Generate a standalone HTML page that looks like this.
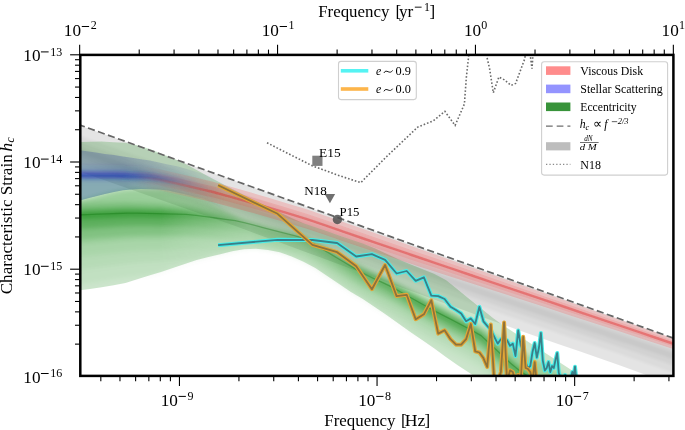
<!DOCTYPE html>
<html><head><meta charset="utf-8"><style>
html,body{margin:0;padding:0;background:#fff;}
svg{display:block;will-change:transform;}
text{font-family:"Liberation Serif",serif;fill:#000;}
</style></head><body>
<svg width="685" height="430" viewBox="0 0 685 430">
<defs><clipPath id="ax"><rect x="80.3" y="54.9" width="593.1" height="321.0"/></clipPath></defs>
<g clip-path="url(#ax)">
<defs>
<filter id="b05" filterUnits="userSpaceOnUse" x="0" y="0" width="685" height="430"><feGaussianBlur stdDeviation="0.6"/></filter>
<filter id="b1" filterUnits="userSpaceOnUse" x="0" y="0" width="685" height="430"><feGaussianBlur stdDeviation="1.2"/></filter>
<filter id="b2" filterUnits="userSpaceOnUse" x="0" y="0" width="685" height="430"><feGaussianBlur stdDeviation="2.5"/></filter>
<filter id="b15" filterUnits="userSpaceOnUse" x="0" y="0" width="685" height="430"><feGaussianBlur stdDeviation="1.8"/></filter>
<linearGradient id="lgb" gradientUnits="userSpaceOnUse" x1="125" y1="0" x2="225" y2="0"><stop offset="0" stop-color="#fff"/><stop offset="1" stop-color="#000"/></linearGradient>
<linearGradient id="lgr" gradientUnits="userSpaceOnUse" x1="135" y1="0" x2="215" y2="0"><stop offset="0" stop-color="#000"/><stop offset="1" stop-color="#fff"/></linearGradient>
<linearGradient id="lgg" gradientUnits="userSpaceOnUse" x1="80" y1="0" x2="600" y2="0"><stop offset="0" stop-color="#fff"/><stop offset="0.154" stop-color="#fff"/><stop offset="0.327" stop-color="#6a6a6a"/><stop offset="0.48" stop-color="#999"/><stop offset="0.65" stop-color="#eee"/><stop offset="1" stop-color="#eee"/></linearGradient>
<mask id="mgreen" maskUnits="userSpaceOnUse" x="0" y="0" width="685" height="430"><rect x="0" y="0" width="685" height="430" fill="url(#lgg)"/></mask>
<mask id="mblue" maskUnits="userSpaceOnUse" x="0" y="0" width="685" height="430"><rect x="0" y="0" width="685" height="430" fill="url(#lgb)"/></mask>
<mask id="mred" maskUnits="userSpaceOnUse" x="0" y="0" width="685" height="430"><rect x="0" y="0" width="685" height="430" fill="url(#lgr)"/></mask>
</defs><path d="M78,124.7L98,131.9L118,139L138,146.2L158,153.4L178,160.6L198,167.8L218,174.9L238,182.1L258,189.3L278,196.5L298,203.7L318,210.8L338,218L358,225.2L378,232.4L398,239.6L418,246.7L438,253.9L458,261.1L478,268.3L498,275.5L518,282.6L538,289.8L558,297L578,304.2L598,311.4L618,318.5L638,325.7L658,332.9L678,340.1L678,387L658,379.5L638,372L618,364.7L598,357.7L578,350.8L558,344L538,337.1L518,330L498,322.7L478,315.4L458,308.1L438,300.9L418,293.6L398,286.3L378,278.8L358,271.4L338,264L318,256.6L298,249.2L278,241.8L258,234.4L238,227L218,220L198,213L178,206L158,199L138,192L118,185L98,178L78,171Z" fill="#000" fill-opacity="0.105" />
<g fill="#000" filter="url(#b1)"><path d="M78,134.8L98,141.9L118,149L138,156.2L158,163.3L178,170.4L198,177.5L218,184.6L238,191.8L258,198.9L278,206L298,213.1L318,220.2L338,227.4L358,234.5L378,241.6L398,248.8L418,255.9L438,263L458,270.2L478,277.2L498,284.2L518,291.1L538,298.1L558,305L578,312L598,318.9L618,325.8L638,332.7L658,339.7L678,346.6L678,374.7L658,367.6L638,360.5L618,353.5L598,346.7L578,340L558,333.2L538,326.5L518,319.6L498,312.5L478,305.5L458,298.4L438,291.2L418,284L398,276.8L378,269.5L358,262.2L338,255L318,247.7L298,240.4L278,233.2L258,225.9L238,218.7L218,211.7L198,204.7L178,197.6L158,190.6L138,183.6L118,176.6L98,169.6L78,162.6Z" fill-opacity="0.04"/><path d="M78,141.1L98,148.2L118,155.3L138,162.4L158,169.5L178,176.5L198,183.6L218,190.7L238,197.8L258,204.9L278,211.9L298,219L318,226.1L338,233.2L358,240.3L378,247.4L398,254.5L418,261.6L438,268.7L458,275.8L478,282.8L498,289.6L518,296.4L538,303.2L558,310L578,316.8L598,323.6L618,330.3L638,337.1L658,343.9L678,350.7L678,367.1L658,360.2L638,353.3L618,346.5L598,339.8L578,333.1L558,326.5L538,319.8L518,313L498,306.2L478,299.3L458,292.3L438,285.2L418,278L398,270.9L378,263.7L358,256.5L338,249.3L318,242.1L298,235L278,227.8L258,220.6L238,213.5L218,206.5L198,199.5L178,192.4L158,185.4L138,178.4L118,171.4L98,164.4L78,157.3Z" fill-opacity="0.045"/><path d="M78,146.2L98,153.3L118,160.3L138,167.4L158,174.4L178,181.5L198,188.5L218,195.6L238,202.6L258,209.7L278,216.7L298,223.8L318,230.8L338,237.9L358,245L378,252.1L398,259.1L418,266.2L438,273.3L458,280.4L478,287.3L498,294L518,300.7L538,307.3L558,314L578,320.7L598,327.3L618,334L638,340.6L658,347.3L678,353.9L678,360.9L658,354.3L638,347.6L618,340.9L598,334.3L578,327.7L558,321.1L538,314.4L518,307.8L498,301.1L478,294.4L458,287.4L438,280.3L418,273.2L398,266.1L378,259L358,251.9L338,244.8L318,237.7L298,230.6L278,223.5L258,216.4L238,209.3L218,202.3L198,195.3L178,188.3L158,181.2L138,174.2L118,167.2L98,160.2L78,153.2Z" fill-opacity="0.045"/></g>
<path d="M78,142L89.9,141.7L101.7,141.6L113.6,142.2L125.5,142.8L137.3,145.2L149.2,148.8L161.1,153.4L172.9,158.2L184.8,163.6L196.7,170.1L208.5,176.6L220.4,182.8L232.3,188.9L244.1,195L256,200.9L267.9,206.6L279.7,212.3L291.6,218L303.5,223.2L315.3,227.3L327.2,231.3L339.1,235.4L350.9,239.5L362.8,243.5L374.7,248.2L386.5,253.7L398.4,259.3L410.3,264.2L422.1,269L434,273.8L445.9,280.1L457.7,289.6L469.6,299.2L481.5,308.7L493.3,318.3L505.2,326.7L517.1,334.5L528.9,342.2L540.8,350L552.7,357.8L564.5,365.5L576.4,373.3L588.3,381.5L600.1,389.7L612,398L612,387L600.1,387L588.3,387L576.4,387L564.5,387L552.7,387L540.8,387L528.9,387L517.1,387L505.2,387L493.3,387L481.5,381.2L469.6,373.1L457.7,365.2L445.9,356.9L434,348.2L422.1,340.1L410.3,332L398.4,323.6L386.5,315.1L374.7,306.9L362.8,299.1L350.9,292L339.1,284.1L327.2,276.1L315.3,268.1L303.5,261.8L291.6,256.4L279.7,252.3L267.9,250L256,248.7L244.1,249.3L232.3,251.3L220.4,254.2L208.5,257L196.7,260.1L184.8,264.1L172.9,268L161.1,271.9L149.2,275.6L137.3,279.3L125.5,282.9L113.6,285.3L101.7,287.2L89.9,288.9L78,290.5Z" fill="#008000" fill-opacity="0.205" />
<g mask="url(#mgreen)"><g filter="url(#b2)"><path d="M78,201L89.9,197.9L101.7,194.9L113.6,192L125.5,190.1L137.3,189.2L149.2,189.2L161.1,189.4L172.9,191.6L184.8,194.3L196.7,197.1L208.5,201L220.4,207.8L232.3,214.6L244.1,220.2L256,223.8L267.9,227.4L279.7,230.4L291.6,233.4L303.5,236.6L315.3,242.3L327.2,248.4L339.1,254.5L350.9,260.9L362.8,267.3L374.7,272.9L386.5,278.4L398.4,284.2L410.3,290.1L422.1,296.1L434,302.1L445.9,308.3L457.7,314.4L469.6,320.6L481.5,326.9L493.3,334L505.2,341.1L517.1,348.2L528.9,354.9L540.8,361.4L552.7,368L564.5,375.2L576.4,383.5L588.3,391.8L600.1,400L612,400L612,384L600.1,384L588.3,384L576.4,384L564.5,384L552.7,384L540.8,384L528.9,376.8L517.1,369.1L505.2,358.3L493.3,347.1L481.5,336L469.6,329.2L457.7,323L445.9,316.8L434,310.6L422.1,304.1L410.3,297.4L398.4,290.7L386.5,284.4L374.7,278.9L362.8,273.3L350.9,266.3L339.1,259.2L327.2,252L315.3,244.8L303.5,238.1L291.6,234.9L279.7,231.9L267.9,228.9L256,225.7L244.1,222.5L232.3,220.3L220.4,218.7L208.5,217.1L196.7,215.4L184.8,214.4L172.9,214.1L161.1,213.8L149.2,213.5L137.3,213.2L125.5,213.2L113.6,213.6L101.7,214.1L89.9,214.5L78,215Z" fill="#0a8a0a" fill-opacity="0.24" /><path d="M78,215L89.9,214.5L101.7,214.1L113.6,213.6L125.5,213.2L137.3,213.2L149.2,213.5L161.1,213.8L172.9,214.1L184.8,214.4L196.7,215.4L208.5,217.1L220.4,218.7L232.3,220.3L244.1,222.5L256,225.7L267.9,228.9L279.7,231.9L291.6,234.9L303.5,238.1L315.3,244.8L327.2,252L339.1,259.2L350.9,266.3L362.8,273.3L374.7,278.9L386.5,284.4L398.4,290.7L410.3,297.4L422.1,304.1L434,310.6L445.9,316.8L457.7,323L469.6,329.2L481.5,336L493.3,347.1L505.2,358.3L517.1,369.1L528.9,376.8L540.8,384L552.7,384L564.5,384L576.4,384L588.3,384L600.1,384L612,384L612,387L600.1,387L588.3,387L576.4,387L564.5,387L552.7,387L540.8,387L528.9,387L517.1,387L505.2,387L493.3,379.8L481.5,368.9L469.6,362.4L457.7,356.5L445.9,350.6L434,344.7L422.1,338.5L410.3,332L398.4,323.6L386.5,315.1L374.7,306.9L362.8,299.1L350.9,292L339.1,284.1L327.2,276.1L315.3,268.1L303.5,261.8L291.6,256.4L279.7,252.3L267.9,250L256,248.7L244.1,249.3L232.3,251.3L220.4,254.2L208.5,257L196.7,260.1L184.8,264.1L172.9,268L161.1,271.9L149.2,275.3L137.3,276.4L125.5,277.7L113.6,279.5L101.7,281.4L89.9,283.2L78,285Z" fill="#0a8a0a" fill-opacity="0.05" /><path d="M78,215L89.9,214.5L101.7,214.1L113.6,213.6L125.5,213.2L137.3,213.2L149.2,213.5L161.1,213.8L172.9,214.1L184.8,214.4L196.7,215.4L208.5,217.1L220.4,218.7L232.3,220.3L244.1,222.5L256,225.7L267.9,228.9L279.7,231.9L291.6,234.9L303.5,238.1L315.3,244.8L327.2,252L339.1,259.2L350.9,266.3L362.8,273.3L374.7,278.9L386.5,284.4L398.4,290.7L410.3,297.4L422.1,304.1L434,310.6L445.9,316.8L457.7,323L469.6,329.2L481.5,336L493.3,347.1L505.2,358.3L517.1,369.1L528.9,376.8L540.8,384L552.7,384L564.5,384L576.4,384L588.3,384L600.1,384L612,384L612,387L600.1,387L588.3,387L576.4,387L564.5,387L552.7,387L540.8,387L528.9,387L517.1,387L505.2,383.7L493.3,372.8L481.5,361.9L469.6,355.3L457.7,349.3L445.9,343.4L434,337.4L422.1,331.1L410.3,324.7L398.4,318.3L386.5,312.6L374.7,306.9L362.8,299.1L350.9,292L339.1,284.1L327.2,276.1L315.3,268.1L303.5,261.8L291.6,256.4L279.7,252.3L267.9,250L256,248.7L244.1,249.3L232.3,251.3L220.4,254.2L208.5,257L196.7,259.7L184.8,259.7L172.9,260.5L161.1,261.3L149.2,262.1L137.3,262.8L125.5,263.9L113.6,265.4L101.7,266.9L89.9,268.5L78,270Z" fill="#0a8a0a" fill-opacity="0.06" /><path d="M78,215L89.9,214.5L101.7,214.1L113.6,213.6L125.5,213.2L137.3,213.2L149.2,213.5L161.1,213.8L172.9,214.1L184.8,214.4L196.7,215.4L208.5,217.1L220.4,218.7L232.3,220.3L244.1,222.5L256,225.7L267.9,228.9L279.7,231.9L291.6,234.9L303.5,238.1L315.3,244.8L327.2,252L339.1,259.2L350.9,266.3L362.8,273.3L374.7,278.9L386.5,284.4L398.4,290.7L410.3,297.4L422.1,304.1L434,310.6L445.9,316.8L457.7,323L469.6,329.2L481.5,336L493.3,347.1L505.2,358.3L517.1,369.1L528.9,376.8L540.8,384L552.7,384L564.5,384L576.4,384L588.3,384L600.1,384L612,384L612,387L600.1,387L588.3,387L576.4,387L564.5,387L552.7,387L540.8,387L528.9,387L517.1,387L505.2,377.7L493.3,366.7L481.5,355.8L469.6,349.1L457.7,343.1L445.9,337.1L434,331.1L422.1,324.7L410.3,318.2L398.4,311.8L386.5,306L374.7,301L362.8,295.9L350.9,289.3L339.1,282.8L327.2,276.1L315.3,268.1L303.5,261.8L291.6,256.4L279.7,252.3L267.9,250L256,248.7L244.1,249.3L232.3,251.2L220.4,250.6L208.5,249.9L196.7,249.2L184.8,249L172.9,249.5L161.1,250.1L149.2,250.6L137.3,251.1L125.5,251.9L113.6,253.2L101.7,254.5L89.9,255.7L78,257Z" fill="#0a8a0a" fill-opacity="0.07" /><path d="M78,215L89.9,214.5L101.7,214.1L113.6,213.6L125.5,213.2L137.3,213.2L149.2,213.5L161.1,213.8L172.9,214.1L184.8,214.4L196.7,215.4L208.5,217.1L220.4,218.7L232.3,220.3L244.1,222.5L256,225.7L267.9,228.9L279.7,231.9L291.6,234.9L303.5,238.1L315.3,244.8L327.2,252L339.1,259.2L350.9,266.3L362.8,273.3L374.7,278.9L386.5,284.4L398.4,290.7L410.3,297.4L422.1,304.1L434,310.6L445.9,316.8L457.7,323L469.6,329.2L481.5,336L493.3,347.1L505.2,358.3L517.1,369.1L528.9,376.8L540.8,384L552.7,384L564.5,384L576.4,384L588.3,384L600.1,384L612,384L612,387L600.1,387L588.3,387L576.4,387L564.5,387L552.7,387L540.8,387L528.9,387L517.1,382.8L505.2,372.1L493.3,361.1L481.5,350.1L469.6,343.4L457.7,337.4L445.9,331.3L434,325.2L422.1,318.8L410.3,312.3L398.4,305.8L386.5,299.8L374.7,294.7L362.8,289.4L350.9,282.8L339.1,276L327.2,269.2L315.3,262.3L303.5,256L291.6,253.4L279.7,251.1L267.9,248.9L256,246.4L244.1,243.9L232.3,242.4L220.4,241.5L208.5,240.5L196.7,239.6L184.8,239.1L172.9,239.4L161.1,239.7L149.2,240L137.3,240.3L125.5,240.8L113.6,241.9L101.7,242.9L89.9,244L78,245Z" fill="#0a8a0a" fill-opacity="0.08" /><path d="M78,203L89.9,202.8L101.7,202.6L113.6,202.3L125.5,202.1L137.3,202.4L149.2,202.9L161.1,203.4L172.9,203.9L184.8,204.5L196.7,205.8L208.5,207.7L220.4,209.6L232.3,214.6L244.1,220.2L256,223.8L267.9,227.4L279.7,230.4L291.6,233.4L303.5,236.6L315.3,242.3L327.2,248.4L339.1,254.5L350.9,260.9L362.8,267.3L374.7,272.9L386.5,278.4L398.4,284.7L410.3,291.4L422.1,298.2L434,304.7L445.9,311L457.7,317.2L469.6,323.5L481.5,330.3L493.3,341.5L505.2,352.7L517.1,363.6L528.9,371.4L540.8,378.6L552.7,378.6L564.5,378.6L576.4,383.5L588.3,391.8L600.1,400L612,400L612,387L600.1,387L588.3,387L576.4,387L564.5,387L552.7,387L540.8,387L528.9,387L517.1,380.5L505.2,369.8L493.3,358.8L481.5,347.7L469.6,341L457.7,335L445.9,328.9L434,322.8L422.1,316.4L410.3,309.8L398.4,303.3L386.5,297.2L374.7,292.1L362.8,286.7L350.9,280L339.1,273.2L327.2,266.3L315.3,259.4L303.5,253L291.6,250.3L279.7,247.9L267.9,245.5L256,242.9L244.1,240.3L232.3,238.7L220.4,237.7L208.5,236.6L196.7,235.6L184.8,235L172.9,235.2L161.1,235.4L149.2,235.6L137.3,235.8L125.5,236.2L113.6,237.2L101.7,238.1L89.9,239.1L78,240Z" fill="#068006" fill-opacity="0.18" /><path d="M78,209L89.9,208.7L101.7,208.3L113.6,208L125.5,207.6L137.3,207.8L149.2,208.2L161.1,208.6L172.9,209L184.8,209.4L196.7,210.6L208.5,212.4L220.4,214.1L232.3,215.9L244.1,220.2L256,223.8L267.9,227.4L279.7,230.4L291.6,233.4L303.5,236.6L315.3,242.3L327.2,248.6L339.1,255.9L350.9,263L362.8,270.1L374.7,275.8L386.5,281.3L398.4,287.7L410.3,294.4L422.1,301.1L434,307.7L445.9,313.9L457.7,320.1L469.6,326.3L481.5,333.2L493.3,344.3L505.2,355.5L517.1,366.3L528.9,374.1L540.8,381.3L552.7,381.3L564.5,381.3L576.4,383.5L588.3,391.8L600.1,400L612,400L612,387L600.1,387L588.3,387L576.4,387L564.5,387L552.7,387L540.8,387L528.9,383.2L517.1,375.5L505.2,364.7L493.3,353.7L481.5,342.6L469.6,335.8L457.7,329.7L445.9,323.6L434,317.4L422.1,311L410.3,304.3L398.4,297.7L386.5,291.6L374.7,286.3L362.8,280.8L350.9,274L339.1,267.1L327.2,260L315.3,253L303.5,246.4L291.6,243.6L279.7,240.9L267.9,238.2L256,235.4L244.1,232.5L232.3,230.6L220.4,229.3L208.5,228L196.7,226.7L184.8,225.9L172.9,225.9L161.1,225.9L149.2,225.8L137.3,225.8L125.5,226.1L113.6,226.8L101.7,227.5L89.9,228.3L78,229Z" fill="#068006" fill-opacity="0.28" /><path d="M78,212.5L89.9,212.1L101.7,211.7L113.6,211.3L125.5,210.9L137.3,210.9L149.2,211.3L161.1,211.6L172.9,212L184.8,212.3L196.7,213.4L208.5,215.1L220.4,216.8L232.3,218.5L244.1,220.7L256,224L267.9,227.4L279.7,230.4L291.6,233.4L303.5,236.6L315.3,243.3L327.2,250.6L339.1,257.8L350.9,264.9L362.8,271.9L374.7,277.6L386.5,283.1L398.4,289.5L410.3,296.2L422.1,302.8L434,309.4L445.9,315.6L457.7,321.8L469.6,328L481.5,334.8L493.3,346L505.2,357.1L517.1,367.9L528.9,375.7L540.8,382.9L552.7,382.9L564.5,382.9L576.4,383.5L588.3,391.8L600.1,400L612,400L612,385.8L600.1,385.8L588.3,385.8L576.4,385.8L564.5,385.8L552.7,385.8L540.8,385.8L528.9,378.6L517.1,370.9L505.2,360.1L493.3,349L481.5,337.9L469.6,331.1L457.7,324.9L445.9,318.7L434,312.5L422.1,306L410.3,299.4L398.4,292.7L386.5,286.5L374.7,281L362.8,275.4L350.9,268.5L339.1,261.5L327.2,254.3L315.3,247.1L303.5,240.5L291.6,237.4L279.7,234.5L267.9,231.6L256,228.5L244.1,225.4L232.3,223.3L220.4,221.7L208.5,220.2L196.7,218.6L184.8,217.7L172.9,217.5L161.1,217.2L149.2,217L137.3,216.8L125.5,216.9L113.6,217.4L101.7,217.9L89.9,218.5L78,219Z" fill="#068006" fill-opacity="0.39" /></g></g>
<path d="M78,215L87.8,214.6L97.7,214.2L107.5,213.9L117.3,213.5L127.1,213.1L137,213.2L146.8,213.4L156.6,213.7L166.5,213.9L176.3,214.2L186.1,214.4L196,215.3L205.8,216.7L215.6,218L225.4,219.4L235.3,220.7L245.1,222.8L254.9,225.4L264.8,228.1L274.6,230.6L284.4,233.1L294.3,235.6L304.1,238.3L313.9,243.9L323.7,249.9L333.6,255.9L343.4,261.8L353.2,267.6L363.1,273.4L372.9,278.1L382.7,282.6L392.6,287.4L402.4,293L412.2,298.5L422,304L431.9,309.5L441.7,314.6L451.5,319.7L461.4,324.9L471.2,330L481,335.6L490.9,344.8L500.7,354L510.5,363.2L520.3,371.2L530.2,377.6L540,384" fill="none" stroke="#0a6a0a" stroke-opacity="0.32" stroke-width="1.3" filter="url(#b05)"/>
<g mask="url(#mblue)"><path d="M78,150L87,151.3L96,152.6L105,153.9L114,155.1L123,156.4L132,157.8L141,159.2L150,160.5L159,162.4L168,164.4L177,166.3L186,168.8L195,171.5L204,174.2L213,177L222,180L231,183L240,186L240,219L231,213.9L222,208.7L213,203.6L204,198.8L195,196.7L186,194.6L177,192.5L168,190.4L159,189.4L150,189.2L141,189L132,189.6L123,190.3L114,191.9L105,194.1L96,196.3L87,198.6L78,201Z" fill="#1a2a9a" fill-opacity="0.24" /><path d="M78,174.8L87,174.9L96,175L105,175.1L114,175.1L123,175.3L132,175.7L141,176.1L150,176.5L159,177.8L168,179.2L177,180.6L186,182.6L195,185L204,187.4L213,189.8L222,192.2L231,194.7L240,197.1L240,219L231,213.9L222,208.7L213,203.6L204,198.8L195,196.7L186,194.6L177,192.5L168,190.4L159,189.4L150,189.2L141,189L132,189.6L123,190.3L114,191.9L105,194.1L96,196.3L87,198.6L78,201Z" fill="#006a70" fill-opacity="0.16" /><path d="M78,164.8L87,164.9L96,165L105,165.1L114,165.1L123,165.3L132,165.7L141,166.1L150,166.5L159,167.8L168,169.2L177,170.6L186,172.6L195,175L204,177.4L213,179.8L222,182.2L231,184.7L240,187.1L240,203.1L231,200.7L222,198.2L213,195.8L204,193.4L195,191L186,188.6L177,186.6L168,185.2L159,183.8L150,182.5L141,182.1L132,181.7L123,181.3L114,181.1L105,181.1L96,181L87,180.9L78,180.8Z" fill="#2030c0" fill-opacity="0.12" filter="url(#b2)"/><path d="M78,170.8L87,170.9L96,171L105,171.1L114,171.1L123,171.3L132,171.7L141,172.1L150,172.5L159,173.8L168,175.2L177,176.6L186,178.6L195,181L204,183.4L213,185.8L222,188.2L231,190.7L240,193.1L240,201.1L231,198.7L222,196.2L213,193.8L204,191.4L195,189L186,186.6L177,184.6L168,183.2L159,181.8L150,180.5L141,180.1L132,179.7L123,179.3L114,179.1L105,179.1L96,179L87,178.9L78,178.8Z" fill="#1a2ab8" fill-opacity="0.4" filter="url(#b15)"/><path d="M78,174.8L87,174.9L96,175L105,175.1L114,175.1L123,175.3L132,175.7L141,176.1L150,176.5L159,177.8L168,179.2L177,180.6L186,182.6L195,185L204,187.4L213,189.8L222,192.2L231,194.7L240,197.1" fill="none" stroke="#1020b0" stroke-opacity="0.3" stroke-width="2.2" filter="url(#b1)"/></g>
<g mask="url(#mred)"><path d="M120,165L138.6,166.1L157.2,168.5L175.8,172.9L194.4,177.3L213,181.7L231.6,187L250.2,192.3L268.8,197.8L287.4,203.4L306,209.1L324.6,215.4L343.2,222L361.8,228.5L380.4,235.1L399,241.6L417.6,248.2L436.2,254.8L454.8,261.4L473.4,267.9L492,274.5L510.6,281.1L529.2,287.7L547.8,294.2L566.4,300.8L585,307.4L603.6,313.9L622.2,320.5L640.8,327L659.4,333.5L678,340.1L678,350.5L659.4,344.5L640.8,338.4L622.2,332.3L603.6,326.2L585,320.2L566.4,314.2L547.8,308.1L529.2,302.1L510.6,296L492,290L473.4,284L454.8,277.9L436.2,271.9L417.6,265.9L399,259.8L380.4,253.8L361.8,247.6L343.2,241.2L324.6,234.8L306,228.5L287.4,223L268.8,217.5L250.2,212.2L231.6,207.2L213,202.2L194.4,198.1L175.8,194L157.2,189.8L138.6,187.8L120,187Z" fill="#ff2020" fill-opacity="0.18" /><path d="M120,169.9L138.6,171L157.2,173.3L175.8,177.6L194.4,182L213,186.3L231.6,191.6L250.2,196.8L268.8,202.2L287.4,207.8L306,213.4L324.6,219.8L343.2,226.3L361.8,232.8L380.4,239.3L399,245.7L417.6,252.2L436.2,258.6L454.8,265.1L473.4,271.5L492,278L510.6,284.4L529.2,290.9L547.8,297.4L566.4,303.8L585,310.3L603.6,316.7L622.2,323.1L640.8,329.6L659.4,336L678,342.4L678,348.2L659.4,342L640.8,335.8L622.2,329.7L603.6,323.5L585,317.3L566.4,311.2L547.8,305L529.2,298.8L510.6,292.7L492,286.5L473.4,280.4L454.8,274.2L436.2,268L417.6,261.9L399,255.7L380.4,249.6L361.8,243.3L343.2,236.8L324.6,230.4L306,224.2L287.4,218.6L268.8,213.1L250.2,207.8L231.6,202.6L213,197.6L194.4,193.4L175.8,189.2L157.2,185L138.6,182.9L120,182.1Z" fill="#ff2020" fill-opacity="0.1" filter="url(#b05)"/><path d="M120,176L138.6,176.9L157.2,179.2L175.8,183.4L194.4,187.7L213,192L231.6,197.1L250.2,202.3L268.8,207.6L287.4,213.2L306,218.8L324.6,225.1L343.2,231.6L361.8,238L380.4,244.4L399,250.7L417.6,257L436.2,263.3L454.8,269.6L473.4,276L492,282.3L510.6,288.6L529.2,294.9L547.8,301.2L566.4,307.5L585,313.8L603.6,320.1L622.2,326.4L640.8,332.7L659.4,339L678,345.3" fill="none" stroke="#e02828" stroke-opacity="0.42" stroke-width="2.4" filter="url(#b05)"/></g>
<line x1="78" y1="124.37" x2="678" y2="339.77" stroke="#666" stroke-width="1.7" stroke-dasharray="7.2 3.4"/>
<path d="M267,142.8L290,154.5L312.6,165.9L336,174.5L360.7,182.7L386.3,156.9L417.7,127.1L433.4,120.8L444.9,111.4L455.1,125.4L464.4,104L466.3,77.9L468.5,57.4L470,40L485,40L486.8,56.5L489.6,68.6L493.3,92.8L498.9,77L504.4,79.8L511,85.4L515.6,83.5L524.9,58.4L527,40L529.6,50L532,68.6L533.3,50L534,40" fill="none" stroke="#6a6a6a" stroke-width="1.6" stroke-dasharray="1.6 1.95"/>
<path d="M218.1,245.2L277.6,239.8L312.4,240L337.1,243L356.2,256.5L371.9,254.2L385.1,259.9L396.6,273.5L406.7,271L415.7,280.8L423.9,277.3L431.3,295.6L438.2,296.1L444.6,299L450.5,306.8L456,310.1L461.2,313.5L466.1,321.3L470.8,318.5L475.2,324L479.4,306.8L483.4,321.3L487.2,325.8L490.8,330L494.3,336.9L497.7,343.6L500.9,339.2L504.1,342L507.1,340.3L510,345.8L512.8,343.6L515.5,356L518.2,330.5L520.7,345.2L523.2,352L525.6,362L528,368.2L530.3,366L532.5,352L534.7,343L536.8,357.5L538.9,348L540.9,333L542.8,360.6L544.8,370.5L546.7,368L548.5,362L550.3,372L552.1,366L553.8,368L555.5,360L557.2,353L558.8,373L560.4,377L562,379L563.5,378L565.1,375L566.6,379L568,380L569.5,377L570.9,378L572.3,372L573.6,376L575,366.7L576.3,380" fill="none" stroke="#48ece6" stroke-width="4.0" stroke-linejoin="round"/>
<path d="M218.1,245.2L277.6,239.8L312.4,240L337.1,243L356.2,256.5L371.9,254.2L385.1,259.9L396.6,273.5L406.7,271L415.7,280.8L423.9,277.3L431.3,295.6L438.2,296.1L444.6,299L450.5,306.8L456,310.1L461.2,313.5L466.1,321.3L470.8,318.5L475.2,324L479.4,306.8L483.4,321.3L487.2,325.8L490.8,330L494.3,336.9L497.7,343.6L500.9,339.2L504.1,342L507.1,340.3L510,345.8L512.8,343.6L515.5,356L518.2,330.5L520.7,345.2L523.2,352L525.6,362L528,368.2L530.3,366L532.5,352L534.7,343L536.8,357.5L538.9,348L540.9,333L542.8,360.6L544.8,370.5L546.7,368L548.5,362L550.3,372L552.1,366L553.8,368L555.5,360L557.2,353L558.8,373L560.4,377L562,379L563.5,378L565.1,375L566.6,379L568,380L569.5,377L570.9,378L572.3,372L573.6,376L575,366.7L576.3,380" fill="none" stroke="#3a7f88" stroke-width="1.8" stroke-linejoin="round"/>
<path d="M218.1,185.2L277.6,213.8L312.4,244.8L337.1,252.2L356.2,266.2L371.9,289.2L385.1,265L396.6,296.1L406.7,294.8L415.7,319.2L423.9,314.3L431.3,300.3L438.2,333.6L444.6,330.2L450.5,339.2L456,344.7L461.2,344.7L466.1,339.2L470.8,324L475.2,351.4L479.4,352.5L483.4,358.1L487.2,367L490.8,324.6L494.3,382L497.7,382L500.9,372L504.1,322.4L507.1,382L510,370.4L512.8,372L515.5,382L518.2,375L520.7,382L523.2,336.8L525.6,368L528,369L530.3,372L532.5,382L534.7,362.1L536.8,384L538.9,386L540.9,388" fill="none" stroke="#e2a636" stroke-width="4.0" stroke-linejoin="round"/>
<path d="M218.1,185.2L277.6,213.8L312.4,244.8L337.1,252.2L356.2,266.2L371.9,289.2L385.1,265L396.6,296.1L406.7,294.8L415.7,319.2L423.9,314.3L431.3,300.3L438.2,333.6L444.6,330.2L450.5,339.2L456,344.7L461.2,344.7L466.1,339.2L470.8,324L475.2,351.4L479.4,352.5L483.4,358.1L487.2,367L490.8,324.6L494.3,382L497.7,382L500.9,372L504.1,322.4L507.1,382L510,370.4L512.8,372L515.5,382L518.2,375L520.7,382L523.2,336.8L525.6,368L528,369L530.3,372L532.5,382L534.7,362.1L536.8,384L538.9,386L540.9,388" fill="none" stroke="#8e723a" stroke-width="1.8" stroke-linejoin="round"/>
<rect x="312.3" y="155.7" width="10.2" height="10.2" fill="#808080"/>
<path d="M324.7,194 L335.1,194 L329.9,203.3 Z" fill="#707070"/>
<circle cx="337.4" cy="219.5" r="4.7" fill="#505050" fill-opacity="0.85"/>
</g>
<g stroke="#000" stroke-width="1.1">
<line x1="100.82" y1="375.90" x2="100.82" y2="381.20"/><line x1="119.97" y1="375.90" x2="119.97" y2="381.20"/><line x1="135.61" y1="375.90" x2="135.61" y2="381.20"/><line x1="148.84" y1="375.90" x2="148.84" y2="381.20"/><line x1="160.30" y1="375.90" x2="160.30" y2="381.20"/><line x1="170.41" y1="375.90" x2="170.41" y2="381.20"/><line x1="179.45" y1="375.90" x2="179.45" y2="386.10"/><line x1="238.93" y1="375.90" x2="238.93" y2="381.20"/><line x1="273.73" y1="375.90" x2="273.73" y2="381.20"/><line x1="298.42" y1="375.90" x2="298.42" y2="381.20"/><line x1="317.57" y1="375.90" x2="317.57" y2="381.20"/><line x1="333.21" y1="375.90" x2="333.21" y2="381.20"/><line x1="346.44" y1="375.90" x2="346.44" y2="381.20"/><line x1="357.90" y1="375.90" x2="357.90" y2="381.20"/><line x1="368.01" y1="375.90" x2="368.01" y2="381.20"/><line x1="377.05" y1="375.90" x2="377.05" y2="386.10"/><line x1="436.53" y1="375.90" x2="436.53" y2="381.20"/><line x1="471.33" y1="375.90" x2="471.33" y2="381.20"/><line x1="496.02" y1="375.90" x2="496.02" y2="381.20"/><line x1="515.17" y1="375.90" x2="515.17" y2="381.20"/><line x1="530.81" y1="375.90" x2="530.81" y2="381.20"/><line x1="544.04" y1="375.90" x2="544.04" y2="381.20"/><line x1="555.50" y1="375.90" x2="555.50" y2="381.20"/><line x1="565.61" y1="375.90" x2="565.61" y2="381.20"/><line x1="574.65" y1="375.90" x2="574.65" y2="386.10"/><line x1="634.13" y1="375.90" x2="634.13" y2="381.20"/><line x1="668.93" y1="375.90" x2="668.93" y2="381.20"/><line x1="79.65" y1="54.90" x2="79.65" y2="44.70"/><line x1="139.22" y1="54.90" x2="139.22" y2="49.60"/><line x1="174.07" y1="54.90" x2="174.07" y2="49.60"/><line x1="198.80" y1="54.90" x2="198.80" y2="49.60"/><line x1="217.98" y1="54.90" x2="217.98" y2="49.60"/><line x1="233.65" y1="54.90" x2="233.65" y2="49.60"/><line x1="246.89" y1="54.90" x2="246.89" y2="49.60"/><line x1="258.37" y1="54.90" x2="258.37" y2="49.60"/><line x1="268.49" y1="54.90" x2="268.49" y2="49.60"/><line x1="277.55" y1="54.90" x2="277.55" y2="44.70"/><line x1="337.12" y1="54.90" x2="337.12" y2="49.60"/><line x1="371.97" y1="54.90" x2="371.97" y2="49.60"/><line x1="396.70" y1="54.90" x2="396.70" y2="49.60"/><line x1="415.88" y1="54.90" x2="415.88" y2="49.60"/><line x1="431.55" y1="54.90" x2="431.55" y2="49.60"/><line x1="444.79" y1="54.90" x2="444.79" y2="49.60"/><line x1="456.27" y1="54.90" x2="456.27" y2="49.60"/><line x1="466.39" y1="54.90" x2="466.39" y2="49.60"/><line x1="475.45" y1="54.90" x2="475.45" y2="44.70"/><line x1="535.02" y1="54.90" x2="535.02" y2="49.60"/><line x1="569.87" y1="54.90" x2="569.87" y2="49.60"/><line x1="594.60" y1="54.90" x2="594.60" y2="49.60"/><line x1="613.78" y1="54.90" x2="613.78" y2="49.60"/><line x1="629.45" y1="54.90" x2="629.45" y2="49.60"/><line x1="642.69" y1="54.90" x2="642.69" y2="49.60"/><line x1="654.17" y1="54.90" x2="654.17" y2="49.60"/><line x1="664.29" y1="54.90" x2="664.29" y2="49.60"/><line x1="673.35" y1="54.90" x2="673.35" y2="44.70"/><line x1="80.30" y1="344.13" x2="75.00" y2="344.13"/><line x1="80.30" y1="325.25" x2="75.00" y2="325.25"/><line x1="80.30" y1="311.86" x2="75.00" y2="311.86"/><line x1="80.30" y1="301.47" x2="75.00" y2="301.47"/><line x1="80.30" y1="292.98" x2="75.00" y2="292.98"/><line x1="80.30" y1="285.81" x2="75.00" y2="285.81"/><line x1="80.30" y1="279.59" x2="75.00" y2="279.59"/><line x1="80.30" y1="274.11" x2="75.00" y2="274.11"/><line x1="80.30" y1="269.20" x2="70.10" y2="269.20"/><line x1="80.30" y1="236.93" x2="75.00" y2="236.93"/><line x1="80.30" y1="218.05" x2="75.00" y2="218.05"/><line x1="80.30" y1="204.66" x2="75.00" y2="204.66"/><line x1="80.30" y1="194.27" x2="75.00" y2="194.27"/><line x1="80.30" y1="185.78" x2="75.00" y2="185.78"/><line x1="80.30" y1="178.61" x2="75.00" y2="178.61"/><line x1="80.30" y1="172.39" x2="75.00" y2="172.39"/><line x1="80.30" y1="166.91" x2="75.00" y2="166.91"/><line x1="80.30" y1="162.00" x2="70.10" y2="162.00"/><line x1="80.30" y1="129.73" x2="75.00" y2="129.73"/><line x1="80.30" y1="110.85" x2="75.00" y2="110.85"/><line x1="80.30" y1="97.46" x2="75.00" y2="97.46"/><line x1="80.30" y1="87.07" x2="75.00" y2="87.07"/><line x1="80.30" y1="78.58" x2="75.00" y2="78.58"/><line x1="80.30" y1="71.41" x2="75.00" y2="71.41"/><line x1="80.30" y1="65.19" x2="75.00" y2="65.19"/><line x1="80.30" y1="59.71" x2="75.00" y2="59.71"/><line x1="80.30" y1="54.80" x2="70.10" y2="54.80"/>
</g>
<rect x="80.3" y="54.9" width="593.10" height="321.00" fill="none" stroke="#000" stroke-width="2.5"/>
<g font-size="17.2">
<text x="160.64" y="405.60" font-size="17.2">10</text><rect x="178.58" y="395.90" width="7.3" height="1.0" fill="#000"/><text x="187.48" y="399.80" font-size="12.0">9</text><text x="358.24" y="405.60" font-size="17.2">10</text><rect x="376.18" y="395.90" width="7.3" height="1.0" fill="#000"/><text x="385.08" y="399.80" font-size="12.0">8</text><text x="555.84" y="405.60" font-size="17.2">10</text><rect x="573.78" y="395.90" width="7.3" height="1.0" fill="#000"/><text x="582.68" y="399.80" font-size="12.0">7</text><text x="63.84" y="35.70" font-size="17.2">10</text><rect x="81.78" y="26.00" width="7.3" height="1.0" fill="#000"/><text x="90.68" y="28.90" font-size="12.0">2</text><text x="261.74" y="35.70" font-size="17.2">10</text><rect x="279.68" y="26.00" width="7.3" height="1.0" fill="#000"/><text x="288.58" y="28.90" font-size="12.0">1</text><text x="463.99" y="35.70" font-size="17.2">10</text><text x="481.28" y="28.80" font-size="12.0">0</text><text x="661.59" y="35.70" font-size="17.2">10</text><text x="678.88" y="28.80" font-size="12.0">1</text><text x="23.29" y="60.90" font-size="17.2">10</text><rect x="40.93" y="51.40" width="7.7" height="1.0" fill="#000"/><text x="50.23" y="55.50" font-size="12.0">13</text><text x="23.29" y="168.10" font-size="17.2">10</text><rect x="40.93" y="158.60" width="7.7" height="1.0" fill="#000"/><text x="50.23" y="162.70" font-size="12.0">14</text><text x="23.29" y="275.30" font-size="17.2">10</text><rect x="40.93" y="265.80" width="7.7" height="1.0" fill="#000"/><text x="50.23" y="269.90" font-size="12.0">15</text><text x="23.29" y="382.50" font-size="17.2">10</text><rect x="40.93" y="373.00" width="7.7" height="1.0" fill="#000"/><text x="50.23" y="377.10" font-size="12.0">16</text>
<text x="318.2" y="16.9" textLength="71.2" lengthAdjust="spacingAndGlyphs">Frequency</text>
<text x="395.6" y="16.9" fill="#555" font-size="17">[</text><text x="399" y="16.9">yr</text><rect x="414.8" y="6.7" width="6.8" height="0.9" fill="#000"/><text x="424.1" y="10.6" font-size="12.0">1</text><text x="429.6" y="16.9" fill="#555" font-size="17">]</text>
<text x="324.3" y="425.8" textLength="71.2" lengthAdjust="spacingAndGlyphs">Frequency</text>
<text x="401" y="425.8" fill="#555" font-size="17">[</text><text x="404.7" y="425.8" textLength="20.6" lengthAdjust="spacingAndGlyphs">Hz</text><text x="424.6" y="425.8" fill="#555" font-size="17">]</text>
<text transform="translate(12.0,294.3) rotate(-90)" textLength="140" lengthAdjust="spacingAndGlyphs">Characteristic Strain</text>
<text transform="translate(11.8,151.6) rotate(-90)" font-style="italic">h</text>
<text transform="translate(14.2,142.4) rotate(-90)" font-style="italic" font-size="11.8">c</text>
</g>
<rect x="541.6" y="61.7" width="126" height="113.4" rx="2.5" fill="#fff" fill-opacity="0.85" stroke="#cfcfcf" stroke-width="1.1"/>
<rect x="546" y="66.3" width="24.4" height="8.6" fill="#ff8c8c"/>
<rect x="546" y="84.6" width="24.4" height="8.6" fill="#9494ff"/>
<rect x="546" y="102.5" width="24.4" height="8.6" fill="#38933a"/>
<line x1="546" y1="126.1" x2="570.4" y2="126.1" stroke="#6e6e6e" stroke-width="1.4" stroke-dasharray="6.7 4"/>
<rect x="546" y="142.2" width="24.4" height="8.2" fill="#bdbdbd"/>
<line x1="546" y1="164.3" x2="570.4" y2="164.3" stroke="#8a8a8a" stroke-width="1.3" stroke-dasharray="1.3 2.1"/>
<text x="580.3" y="74.5" font-size="11.8" textLength="62.8" lengthAdjust="spacingAndGlyphs">Viscous Disk</text>
<text x="580.3" y="92.8" font-size="11.8" textLength="82.4" lengthAdjust="spacingAndGlyphs">Stellar Scattering</text>
<text x="580.3" y="111.2" font-size="11.8" textLength="56.4" lengthAdjust="spacingAndGlyphs">Eccentricity</text>
<text x="579.8" y="127.5" font-size="11.8" font-style="italic">h</text>
<text x="585.6" y="130.4" font-size="8.4" font-style="italic">c</text>
<text x="592.6" y="128.2" font-size="13">∝</text>
<text x="604.2" y="127.5" font-size="11.8" font-style="italic">f</text>
<rect x="611.8" y="121.4" width="5.4" height="0.7" fill="#222"/>
<text x="617.8" y="124.4" font-size="8.4" font-style="italic">2/3</text>
<text x="584.2" y="140.6" font-size="7.2" font-style="italic">dN</text>
<rect x="580" y="142.2" width="18.6" height="0.7" fill="#333"/>
<text x="579.8" y="150.3" font-size="7.6" font-style="italic" textLength="17" lengthAdjust="spacingAndGlyphs">d M</text>
<text x="580.3" y="168.5" font-size="11.8" textLength="20.6" lengthAdjust="spacingAndGlyphs">N18</text>
<rect x="338.5" y="61.4" width="77.8" height="38.2" rx="2.5" fill="#fff" fill-opacity="0.85" stroke="#cfcfcf" stroke-width="1.1"/>
<line x1="340.8" y1="70.8" x2="368.3" y2="70.8" stroke="#55f3f3" stroke-width="3.6"/>
<line x1="340.8" y1="89" x2="368.3" y2="89" stroke="#fdb54a" stroke-width="3.6"/>
<text x="376" y="74.6" font-size="11.8" font-style="italic">e</text>
<path d="M383.9,73.0 C386.4,68.0 389.6,75.4 392.6,70.4" fill="none" stroke="#111" stroke-width="0.95"/>
<text x="395.6" y="74.8" font-size="11.8" textLength="15.4" lengthAdjust="spacingAndGlyphs">0.9</text>
<text x="376" y="93" font-size="11.8" font-style="italic">e</text>
<path d="M383.9,91.3 C386.4,86.3 389.6,93.7 392.6,88.7" fill="none" stroke="#111" stroke-width="0.95"/>
<text x="395.6" y="93.2" font-size="11.8" textLength="15.4" lengthAdjust="spacingAndGlyphs">0.0</text>
<text x="319.0" y="156.8" font-size="12.8" textLength="21.6" lengthAdjust="spacingAndGlyphs">E15</text>
<text x="304.2" y="194.5" font-size="12.8" textLength="22.6" lengthAdjust="spacingAndGlyphs">N18</text>
<text x="339.6" y="215.5" font-size="12.8" textLength="19.8" lengthAdjust="spacingAndGlyphs">P15</text>
</svg>
</body></html>
